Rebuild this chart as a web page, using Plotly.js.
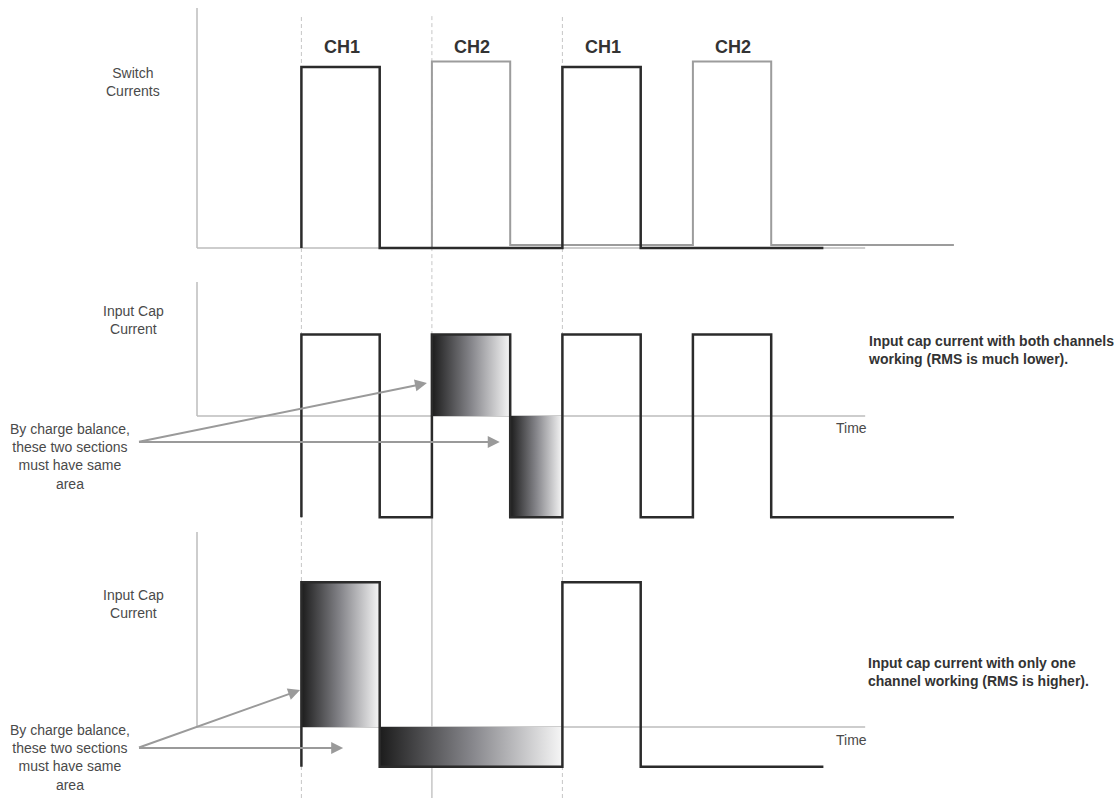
<!DOCTYPE html>
<html>
<head>
<meta charset="utf-8">
<script src="https://cdn.plot.ly/plotly-3.0.1.min.js"></script>
<style>
  html, body { margin: 0; padding: 0; background: #fff; }
  #chart { width: 1114px; height: 798px; }
</style>
</head>
<body>
<div id="chart"></div>
<script>
// switch currents (top panel), time in arbitrary units, current normalised to 1
const ch1Time = [4, 4, 7, 14, 17, 24];
const ch1Level = [0, 1, 0, 1, 0, 0];
const ch2Time = [9, 9, 12, 19, 22, 29];
const ch2Level = [0, 1.03, 0.017, 1.03, 0.017, 0.017];

// input cap current, both channels working
const bothTime = [4, 4, 7, 9, 12, 14, 17, 19, 22, 29];
const bothLevel = [-0.56, 0.45, -0.56, 0.45, -0.56, 0.45, -0.56, 0.45, -0.56, -0.56];

// input cap current, one channel working
const oneTime = [4, 4, 7, 14, 17, 24];
const oneLevel = [-0.22, 0.8, -0.22, 0.8, -0.22, -0.22];

// shaded sections (equal charge)
const bothShadeStart = [9, 12];
const bothShadeEnd = [12, 14];
const bothShadeLow = [0, -0.56];
const bothShadeHigh = [0.45, 0];

const oneShadeStart = [4, 7];
const oneShadeEnd = [7, 14];
const oneShadeLow = [0, -0.22];
const oneShadeHigh = [0.8, 0];

const chNames = ['CH1', 'CH2', 'CH1', 'CH2'];
const chOnsets = [4, 9, 14, 19];
const guideTimes = [4, 9, 14];

const FONT = 'Liberation Sans, Arial, Helvetica, sans-serif';
const BLACK = '#2b2b2b';
const GREY = '#9c9c9c';
const AXIS = '#bcbcbc';
const gradient = {
  type: 'horizontal',
  colorscale: [[0, '#1c1c1c'], [0.5, '#85858a'], [1, '#f6f6f6']]
};

function stepTrace(t, v, yaxis, color, width) {
  return {
    x: t, y: v, yaxis: yaxis,
    type: 'scatter', mode: 'lines',
    line: { shape: 'hv', color: color, width: width },
    hoverinfo: 'skip'
  };
}

function shadeTraces(t0, t1, lo, hi, yaxis) {
  return t0.map((s, i) => ({
    x: [s, t1[i], t1[i], s, s],
    y: [lo[i], lo[i], hi[i], hi[i], lo[i]],
    yaxis: yaxis,
    type: 'scatter', mode: 'lines',
    fill: 'toself',
    fillgradient: gradient,
    line: { width: 0 },
    hoverinfo: 'skip'
  }));
}

const traces = [
  stepTrace(ch2Time, ch2Level, 'y', GREY, 2),
  stepTrace(ch1Time, ch1Level, 'y', BLACK, 2.5),
  ...shadeTraces(bothShadeStart, bothShadeEnd, bothShadeLow, bothShadeHigh, 'y2'),
  stepTrace(bothTime, bothLevel, 'y2', BLACK, 2.5),
  ...shadeTraces(oneShadeStart, oneShadeEnd, oneShadeLow, oneShadeHigh, 'y3'),
  stepTrace(oneTime, oneLevel, 'y3', BLACK, 2.5)
];

// axis lines of each panel
const axisEnd = 25.6;
const shapes = [];
[['y', 1.326], ['y2', 0.74], ['y3', 1.077]].forEach(([ax, top]) => {
  shapes.push({ type: 'line', xref: 'x', yref: ax, x0: 0, x1: 0, y0: 0, y1: top,
    line: { color: AXIS, width: 1.5 }, layer: 'below' });
  shapes.push({ type: 'line', xref: 'x', yref: ax, x0: 0, x1: axisEnd, y0: 0, y1: 0,
    line: { color: AXIS, width: 1.5 }, layer: 'below' });
});

// vertical timing guides
guideTimes.forEach(t => {
  const solidFrom = t === 9 ? 0.352 : 0;
  shapes.push({ type: 'line', xref: 'x', yref: 'paper', x0: t, x1: t, y0: solidFrom, y1: 0.981,
    line: { color: '#c6c6c6', width: 1, dash: '4px,3px' }, layer: 'below' });
  if (solidFrom > 0) {
    shapes.push({ type: 'line', xref: 'x', yref: 'paper', x0: t, x1: t, y0: 0, y1: solidFrom,
      line: { color: '#c6c6c6', width: 1.5 }, layer: 'below' });
  }
});

const labelFont = { family: FONT, size: 14, color: '#4a4a4a' };
const boldFont = { family: FONT, size: 14, color: '#333', weight: 'bold' };

const annotations = [];
chNames.forEach((name, i) => {
  annotations.push({ x: chOnsets[i] + 1.55, y: 1.11, xref: 'x', yref: 'y', text: '<b>' + name + '</b>',
    showarrow: false, font: { family: FONT, size: 18, color: '#333' } });
});

function text(x, y, yref, txt, font, anchor) {
  annotations.push({ x: x, y: y, xref: 'x', yref: yref, text: txt, showarrow: false,
    font: font, xanchor: anchor || 'center', align: anchor === 'left' ? 'left' : 'center' });
}

text(-2.45, 0.917, 'y', 'Switch<br>Currents', labelFont);
text(25.06, -0.083, 'y', 'Time', labelFont);

text(-2.45, 0.53, 'y2', 'Input Cap<br>Current', labelFont);
text(25.06, -0.066, 'y2', 'Time', labelFont);
text(-4.87, -0.224, 'y2', 'By charge balance,<br>these two sections<br>must have same<br>area', labelFont);
text(25.63, 0.365, 'y2', '<b>Input cap current with both channels<br>working (RMS is much lower).</b>', boldFont, 'left');

text(-2.45, 0.68, 'y3', 'Input Cap<br>Current', labelFont);
text(25.06, -0.072, 'y3', 'Time', labelFont);
text(-4.87, -0.171, 'y3', 'By charge balance,<br>these two sections<br>must have same<br>area', labelFont);
text(25.63, 0.304, 'y3', '<b>Input cap current with only one<br>channel working (RMS is higher).</b>', boldFont, 'left');

function arrow(tail, head, yref) {
  annotations.push({ x: head[0], y: head[1], ax: tail[0], ay: tail[1], xref: 'x', yref: yref,
    axref: 'x', ayref: yref, text: '', showarrow: true, arrowhead: 2, arrowsize: 1.2,
    arrowwidth: 2, arrowcolor: '#9a9a9a' });
}
arrow([-2.28, -0.144], [8.81, 0.182], 'y2');
arrow([-2.28, -0.144], [11.6, -0.144], 'y2');
arrow([-2.28, -0.116], [3.95, 0.204], 'y3');
arrow([-2.28, -0.116], [5.6, -0.116], 'y3');

const hidden = { visible: false, fixedrange: true };
const layout = {
  width: 1114, height: 798,
  margin: { l: 0, r: 0, t: 0, b: 0 },
  paper_bgcolor: '#fff', plot_bgcolor: '#fff',
  showlegend: false,
  font: { family: FONT },
  xaxis: { ...hidden, range: [-7.548, 35.134] },
  yaxis: { ...hidden, domain: [0.6717, 1], range: [-0.0773, 1.370] },
  yaxis2: { ...hidden, domain: [0.3358, 0.6717], range: [-0.630, 0.851], anchor: 'x' },
  yaxis3: { ...hidden, domain: [0, 0.3358], range: [-0.392, 1.088], anchor: 'x' },
  shapes: shapes,
  annotations: annotations
};

Plotly.newPlot('chart', traces, layout, { staticPlot: true, displayModeBar: false });
</script>
</body>
</html>
